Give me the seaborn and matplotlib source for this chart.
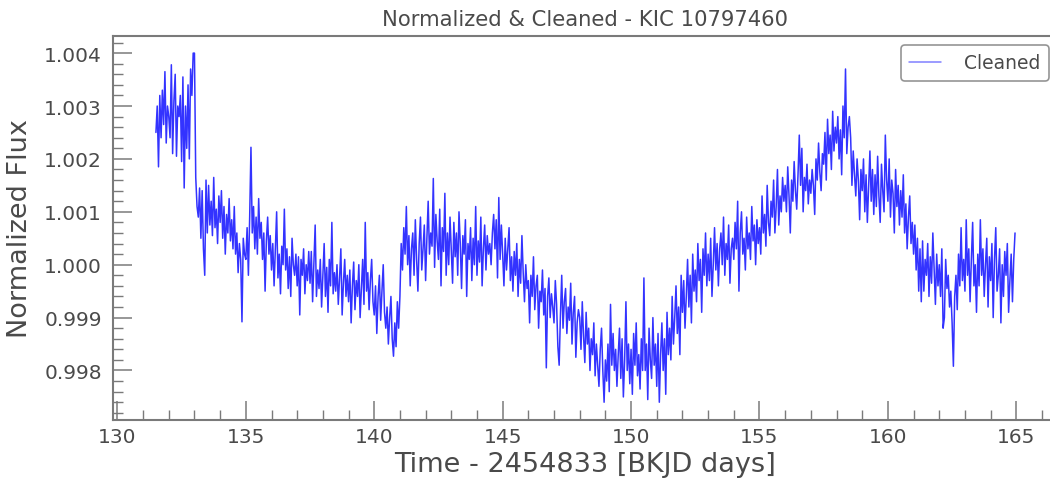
import numpy as np
import pandas as pd
import matplotlib
matplotlib.use("Agg")
import matplotlib.pyplot as plt
from matplotlib.ticker import MultipleLocator, FormatStrFormatter
import seaborn as sns

# ---- data ----
time_start = 131.50          # first cadence [BKJD - 2454833]
cadence = 0.05               # days between samples
# flux offsets from 1.0 in units of 1e-5 (rows = half a day, 10 samples each)
flux_offset_1e5 = [
    250, 300, 185, 320, 240, 330, 265, 365, 230, 300,   # 131.5
    280, 240, 378, 210, 310, 360, 205, 300, 280, 320,   # 132.0
    195, 355, 145, 300, 220, 340, 200, 370, 320, 400,   # 132.5
    400, 165, 110, 90, 145, 50, 140, 30, -20, 160,      # 133.0
    60, 150, 75, 120, 55, 165, 70, 105, 40, 130,        # 133.5
    80, 140, 50, 110, 20, 95, 60, 125, 45, 85,          # 134.0
    30, 110, 20, 60, -15, 40, 10, -108, 50, 20,         # 134.5
    10, 70, -20, 90, 222, 60, 110, 30, 90, 20,          # 135.0
    125, 50, 80, 10, 60, -50, 45, 90, 20, 55,           # 135.5
    -10, 40, -40, 30, 100, -25, 20, -55, 35, 0,         # 136.0
    105, -10, 30, -45, 15, -60, 50, 0, -20, 20,         # 136.5
    -40, 15, -95, 10, -20, 30, -55, 0, -30, 25,         # 137.0
    -35, 25, -70, 5, 75, -60, -10, -45, 10, -80,        # 137.5
    -20, 40, -60, -5, -90, 10, -40, 80, -55, -15,       # 138.0
    -50, 0, -75, -25, 30, -95, -35, 10, -60, -20,       # 138.5
    -70, -10, -110, -40, 5, -85, -30, -60, 0, -100,     # 139.0
    -45, 10, -75, 80, -50, -15, -85, -30, 10, -70,      # 139.5
    -95, -40, -130, -60, -20, -105, -50, 0, -90, -120,  # 140.0
    -80, -150, -100, -60, -140, -173, -110, -155, -70, -120,  # 140.5
    -60, 40, -10, 70, 20, 110, 0, 55, -40, 30,          # 141.0
    60, -20, 85, 10, -50, 40, 90, -10, 30, 75,          # 141.5
    -30, 50, 120, 20, 60, 35, 163, -5, 95, 45,          # 142.0
    10, 105, -40, 70, 25, 135, -20, 60, 0, 90,          # 142.5
    30, -35, 80, 15, 60, -20, 100, 40, -45, 55,         # 143.0
    20, 85, -60, 40, 10, 70, -30, 50, 0, 110,           # 143.5
    -20, 45, 5, 90, -40, 30, 75, -10, 55, 20,           # 144.0
    40, 0, 60, 95, 30, 85, -25, 127, 10, 75,            # 144.5
    20, -40, 50, -10, 30, 70, -30, 15, -50, 25,         # 145.0
    -20, 40, -60, 10, -35, 55, -15, -70, 0, -45,        # 145.5
    -30, -110, -20, -60, 15, -85, -40, -20, -120, -50,  # 146.0
    -70, -10, -95, -45, -195, -60, -25, -100, -55, -80, # 146.5
    -110, -30, -75, -155, -190, -95, -20, -120, -70, -45,  # 147.0
    -130, -80, -105, -35, -150, -90, -60, -175, -110, -85,  # 147.5
    -100, -160, -70, -135, -185, -90, -150, -120, -200, -140,  # 148.0
    -170, -110, -210, -150, -190, -230, -160, -120, -200, -260,  # 148.5
    -180, -220, -150, -240, -75, -190, -130, -200, -160, -230,  # 149.0
    -170, -120, -215, -140, -250, -180, -70, -200, -150, -225,  # 149.5
    -160, -245, -130, -190, -110, -210, -170, -235, -140, -200,  # 150.0
    -25, -200, -150, -255, -120, -180, -215, -100, -190, -150,  # 150.5
    -230, -130, -260, -170, -110, -200, -140, -245, -90, -170,  # 151.0
    -120, -180, -60, -150, -100, -40, -130, -80, -170, -20,     # 151.5
    -90, -30, -120, -60, 10, -80, -20, -110, 20, -50,   # 152.0
    -10, -70, 40, -30, 10, -90, 30, -20, 60, -40,       # 152.5
    20, -30, 50, -60, 0, 70, -10, 40, -40, 30,          # 153.0
    60, 0, 90, -20, 40, 10, 75, -35, 30, 50,            # 153.5
    10, 80, 30, 120, -50, 60, 100, 20, 50, -10,         # 154.0
    90, 30, 60, 10, 110, 45, 75, 0, 85, 40,             # 154.5
    70, 20, 130, 60, 95, 35, 150, 80, 55, 120,          # 155.0
    90, 160, 60, 110, 180, 75, 130, 100, 165, 120,      # 155.5
    150, 100, 185, 130, 60, 160, 120, 195, 140, 105,    # 156.0
    170, 245, 150, 220, 100, 165, 140, 190, 115, 160,   # 156.5
    135, 180, 150, 95, 200, 160, 230, 175, 140, 210,    # 157.0
    190, 250, 160, 275, 210, 245, 180, 290, 215, 260,   # 157.5
    230, 280, 200, 255, 170, 300, 240, 370, 210, 260,   # 158.0
    280, 240, 150, 215, 170, 130, 200, 160, 85, 180,    # 158.5
    140, 200, 100, 170, 80, 150, 215, 120, 180, 95,     # 159.0
    170, 110, 205, 130, 80, 190, 140, 100, 245, 160,    # 159.5
    120, 200, 90, 160, 135, 60, 180, 110, 150, 75,      # 160.0
    140, 90, 170, 60, 115, 30, 90, 130, 40, 80,         # 160.5
    20, 75, -10, 50, -50, 30, -70, 45, -50, 10,         # 161.0
    -20, 40, -60, 15, -35, 60, -10, -75, 20, -40,       # 161.5
    0, -60, 30, -120, -100, 10, -45, -20, -80, -50,     # 162.0
    -110, -192, -60, -20, -85, 20, -40, 70, -30, 10,    # 162.5
    -50, 85, -20, 30, -70, 10, 80, -40, 0, -90,         # 163.0
    20, -40, 85, -20, 30, -60, 0, 50, -80, 15,          # 163.5
    -30, 40, -100, 10, 70, -50, -20, 30, -110, 0,       # 164.0
    -60, 25, -20, 40, -90, -30, 20, -70, 10, 60,        # 164.5
]
series_label = "Cleaned"
title_text = "Normalized & Cleaned - KIC 10797460"
xlabel_text = "Time - 2454833 [BKJD days]"
ylabel_text = "Normalized Flux"

flux = 1.0 + np.array(flux_offset_1e5, dtype=float) * 1e-5
time = time_start + cadence * np.arange(len(flux))
df = pd.DataFrame({"time": time, "flux": flux})

# ---- style ----
sns.set_style("ticks")
plt.rcParams["font.family"] = ["DejaVu Sans"]
text_c = "#4a4a4a"
spine_c = "#7a7a7a"

fig = plt.figure(figsize=(10.5, 4.85), dpi=100)
ax = fig.add_axes([0.1076, 0.1326, 0.9, 0.7918])

sns.lineplot(data=df, x="time", y="flux", ax=ax, sort=False, estimator=None,
             color="#0000ff", alpha=0.8, linewidth=1.1, label=series_label)

ax.margins(x=0.05, y=0.05)
ax.xaxis.set_major_locator(MultipleLocator(5))
ax.xaxis.set_minor_locator(MultipleLocator(1))
ax.yaxis.set_major_locator(MultipleLocator(0.001))
ax.yaxis.set_minor_locator(MultipleLocator(0.0002))
ax.yaxis.set_major_formatter(FormatStrFormatter("%.3f"))
ax.xaxis.set_major_formatter(FormatStrFormatter("%d"))

ax.tick_params(axis="both", which="both", direction="in", colors=spine_c,
               labelcolor=text_c, bottom=True, left=True, top=False, right=False)
ax.tick_params(axis="both", which="major", length=14, width=1.1, labelsize=14.5)
ax.tick_params(axis="both", which="minor", length=7, width=1.0)
ax.tick_params(axis="y", which="major", pad=8)
ax.tick_params(axis="x", which="major", pad=5)

for s in ax.spines.values():
    s.set_color(spine_c)
    s.set_linewidth(1.5)
ax.spines["right"].set_visible(False)

ax.set_title(title_text, fontsize=15.2, color=text_c, pad=8)
ax.set_xlabel(xlabel_text, fontsize=19.5, color=text_c, labelpad=4)
ax.set_ylabel(ylabel_text, fontsize=19.5, color=text_c, labelpad=8)

leg = ax.legend(loc="upper right", fontsize=13.5, frameon=True, fancybox=True,
                handlelength=1.7, handletextpad=1.2, borderpad=0.45,
                borderaxespad=0.5)
leg.get_frame().set_edgecolor(spine_c)
leg.get_frame().set_linewidth(1.2)
for t in leg.get_texts():
    t.set_color(text_c)
for h in leg.get_lines():
    h.set_alpha(0.5)

fig.savefig("out.png", dpi=100)
